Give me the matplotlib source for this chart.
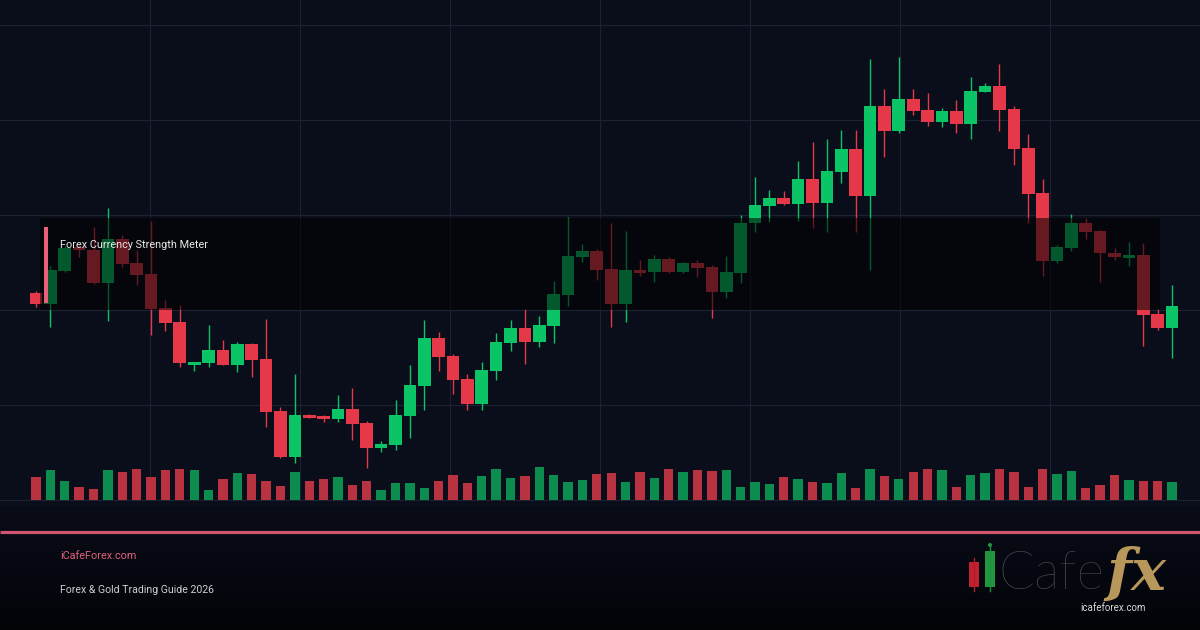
import matplotlib.pyplot as plt
import numpy as np
from matplotlib.patches import Rectangle, Circle
from matplotlib.colors import LinearSegmentedColormap

# price in chart units, one value per candle
opens = [207, 196, 229, 253, 250, 217, 261, 237, 226, 192, 178, 135, 137, 150, 135, 156,
         141, 89, 43, 85, 84, 81, 91, 77, 52, 55, 84, 114, 162, 144, 121, 96,
         129, 157, 172, 158, 174, 205, 243, 249, 231, 196, 230, 228, 241, 228, 237, 233,
         208, 227, 277, 294, 302, 296, 321, 297, 328, 351, 304, 394, 369, 401, 390, 378,
         389, 376, 408, 414, 391, 352, 307, 239, 252, 277, 269, 247, 242, 245, 186, 172]
closes = [196, 230, 252, 250, 217, 261, 236, 225, 191, 177, 137, 138, 150, 135, 156, 140,
          88, 43, 85, 82, 81, 91, 76, 52, 56, 85, 115, 162, 143, 120, 96, 130,
          158, 172, 158, 175, 206, 244, 249, 230, 196, 230, 227, 241, 228, 237, 232, 208,
          228, 277, 295, 302, 296, 321, 297, 329, 351, 304, 394, 369, 401, 389, 378, 389,
          376, 409, 414, 390, 351, 306, 239, 253, 277, 268, 247, 243, 245, 185, 172, 194]
highs = [209, 234, 254, 256, 273, 292, 265, 250, 279, 200, 195, 138, 175, 160, 158, 157,
         181, 93, 126, 86, 85, 105, 112, 79, 59, 100, 135, 180, 168, 146, 126, 138,
         167, 180, 191, 184, 219, 283, 256, 251, 277, 269, 240, 245, 243, 238, 240, 235,
         244, 285, 323, 310, 309, 339, 358, 361, 370, 370, 441, 411, 443, 411, 407, 392,
         400, 423, 417, 436, 394, 366, 321, 255, 286, 282, 270, 252, 258, 257, 191, 215]
lows = [193, 173, 228, 243, 216, 179, 233, 215, 165, 169, 133, 129, 133, 135, 128, 123,
        73, 42, 37, 82, 78, 78, 60, 32, 48, 50, 62, 90, 129, 106, 90, 90,
        120, 149, 136, 153, 157, 194, 238, 220, 173, 178, 224, 218, 227, 227, 223, 182,
        202, 217, 268, 278, 295, 279, 272, 268, 317, 268, 230, 343, 367, 385, 374, 373,
        367, 361, 408, 369, 335, 277, 224, 237, 249, 261, 218, 240, 234, 154, 170, 142]
volumes = [23, 30, 19, 13, 11, 30, 28, 31, 23, 30, 31, 30, 10, 21, 27, 26, 19, 14, 28, 19,
           21, 23, 15, 19, 10, 17, 17, 12, 19, 25, 17, 24, 31, 22, 24, 33, 25, 18, 20, 26,
           27, 18, 28, 22, 31, 28, 30, 29, 30, 13, 18, 16, 23, 21, 18, 17, 27, 12, 31, 24,
           21, 28, 31, 30, 13, 25, 27, 31, 28, 13, 31, 26, 29, 12, 15, 25, 20, 19, 19, 18]

panel_title = 'Forex Currency Strength Meter'
site_label = 'iCafeForex.com'
guide_label = 'Forex & Gold Trading Guide 2026'
logo_url = 'icafeforex.com'

BG = '#0a0e1a'
GRID = '#1c2233'
UP = '#0ac466'
DOWN = '#e5394a'
UP_VOL = '#0c8c4f'
DOWN_VOL = '#b9323f'

W, H = 1200, 630
fig = plt.figure(figsize=(12, 6.3), dpi=100, facecolor=BG)

# background: grid + footer, in pixel coords
bg = fig.add_axes([0, 0, 1, 1], zorder=0)
bg.set_xlim(0, W)
bg.set_ylim(H, 0)
bg.axis('off')
bg.set_facecolor(BG)
for gx in range(150, W, 150):
    bg.plot([gx, gx], [0, 500], color=GRID, lw=0.8)
for gy in range(25, 501, 95):
    bg.plot([0, W], [gy, gy], color=GRID, lw=0.8)
grad = np.linspace(0, 1, 100)[:, None]
footer_cmap = LinearSegmentedColormap.from_list('f', ['#090c17', '#060811', '#030408'])
bg.imshow(grad, cmap=footer_cmap, extent=(0, W, H, 506), aspect='auto', zorder=1)

# price axes
n = len(opens)
idx = np.arange(n)
ax = fig.add_axes([0, (H - 515) / H, 1, 515 / H], zorder=1)
ax.patch.set_alpha(0)
ax.axis('off')
o = np.array(opens)
c = np.array(closes)
up = c >= o
cols = np.where(up, UP, DOWN)
ax.vlines(idx, lows, highs, colors=cols, lw=1.0)
body = np.maximum(np.abs(c - o), 1.5)
ax.bar(idx, body, bottom=np.minimum(o, c), width=0.88, color=cols, linewidth=0)
ax.set_xlim(-36 / 14.38, (W - 36) / 14.38)
ax.set_ylim(-15, 500)

vax = ax.twinx()
vax.axis('off')
vax.bar(idx, volumes, width=0.65, color=np.where(up, UP_VOL, DOWN_VOL), linewidth=0)
vax.set_ylim(-15, 500)

# overlay, labels, footer, logo
top = fig.add_axes([0, 0, 1, 1], zorder=3)
top.patch.set_alpha(0)
top.set_xlim(0, W)
top.set_ylim(H, 0)
top.axis('off')
top.add_patch(Rectangle((40, 218), 1120, 92, color='black', alpha=0.55, lw=0))
top.add_patch(Rectangle((44, 227), 3.5, 76, color='#e8607c', lw=0))
top.text(60, 245, panel_title, color='#e8e8e8', fontsize=7.8, family='Roboto', va='center')

top.plot([0, W], [532, 532], color='#cf5570', lw=2.3, solid_capstyle='butt')
top.text(60, 556, site_label, color='#e0607e', fontsize=7.8, family='Roboto', va='center')
top.text(60, 590, guide_label, color='#cfcfcf', fontsize=7.6, family='Roboto', va='center')

# logo
top.plot([974, 974], [558, 591], color='#b01e2c', lw=1)
top.add_patch(Rectangle((969, 562), 10, 25, color='#c0202f', lw=0))
top.plot([990, 990], [546, 591], color='#1f8f3c', lw=1)
top.add_patch(Rectangle((985, 551), 10, 36, color='#22963f', lw=0))
top.add_patch(Circle((990, 545), 2, color='#22963f', lw=0))
top.text(998, 589, 'Cafe', color='#5a5a5a', fontsize=38, family='Lato', fontweight='light',
         va='baseline')
top.text(1106, 590, 'fx', color='#b8975a', fontsize=42, family='DejaVu Serif',
         fontweight='bold', style='italic', va='baseline')
top.text(1080, 608, logo_url, color='#d8d8d8', fontsize=7, family='Roboto', va='center')

fig.savefig('out.png', dpi=100, facecolor=BG)
